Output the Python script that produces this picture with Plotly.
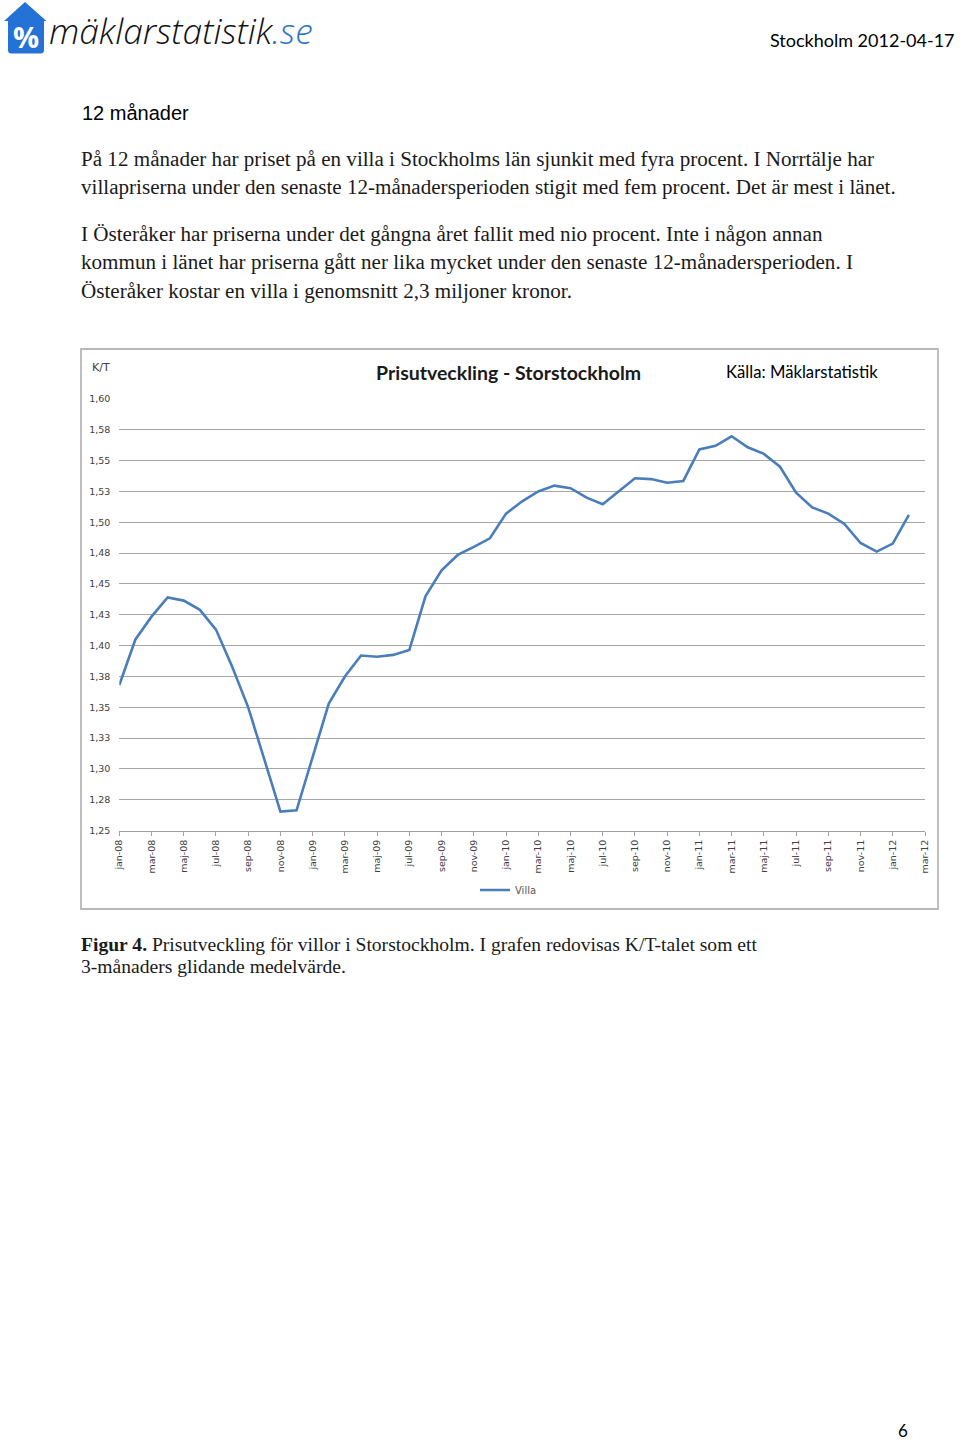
import plotly.graph_objects as go

# ---------------- data ----------------
months = ["jan", "feb", "mar", "apr", "maj", "jun", "jul", "aug", "sep", "okt", "nov", "dec"]
categories = [f"{m}-{y:02d}" for y in range(8, 13) for m in months][:51]  # jan-08 .. mar-12

villa = [
    # 2008
    1.368, 1.405, 1.4235, 1.439, 1.4365, 1.429, 1.413, 1.383, 1.350, 1.308, 1.2655, 1.2665,
    # 2009
    1.310, 1.353, 1.375, 1.392, 1.391, 1.3925, 1.3965, 1.440, 1.461, 1.4735, 1.480, 1.487,
    # 2010
    1.507, 1.517, 1.525, 1.5297, 1.5276, 1.520, 1.5146, 1.525, 1.5357, 1.535, 1.532, 1.5335,
    # 2011
    1.559, 1.562, 1.5697, 1.5608, 1.5554, 1.545, 1.524, 1.512, 1.507, 1.4986, 1.4832, 1.4762,
    # 2012
    1.4827, 1.506, None,
]

y_tickvals = [1.25, 1.275, 1.30, 1.325, 1.35, 1.375, 1.40, 1.425, 1.45, 1.475, 1.50, 1.525, 1.55, 1.575, 1.60]
y_ticktext = ["1,25", "1,28", "1,30", "1,33", "1,35", "1,38", "1,40", "1,43", "1,45", "1,48",
              "1,50", "1,53", "1,55", "1,58", "1,60"]

x_idx = list(range(len(categories)))
x_tickvals = x_idx[::2]
x_ticktext = categories[::2]

chart_title = "Prisutveckling - Storstockholm"
source_text = "Källa: Mäklarstatistik"
series_name = "Villa"

paragraph_lines = [
    "På 12 månader har priset på en villa i Stockholms län sjunkit med fyra procent. I Norrtälje har",
    "villapriserna under den senaste 12-månadersperioden stigit med fem procent. Det är mest i länet.",
    "I Österåker har priserna under det gångna året fallit med nio procent. Inte i någon annan",
    "kommun i länet har priserna gått ner lika mycket under den senaste 12-månadersperioden. I",
    "Österåker kostar en villa i genomsnitt 2,3 miljoner kronor.",
]
paragraph_y = [159, 187, 234, 262, 291]

caption_lines = [
    "<b>Figur 4.</b> Prisutveckling för villor i Storstockholm. I grafen redovisas K/T-talet som ett",
    "3-månaders glidande medelvärde.",
]
caption_y = [944, 966]

# ---------------- layout helpers ----------------
W, H = 960, 1443


def px(x):
    return x / W


def py(y):
    return 1 - y / H


fig = go.Figure()
fig.add_trace(go.Scatter(
    x=x_idx, y=villa, mode="lines", name=series_name,
    line=dict(color="#4a7ebb", width=2.6), connectgaps=False,
))

annotations = []


def add_text(text, x, y, size, family, color="#000000", xanchor="left", yanchor="middle", **kw):
    annotations.append(dict(
        text=text, x=px(x), y=py(y), xref="paper", yref="paper", showarrow=False,
        xanchor=xanchor, yanchor=yanchor, font=dict(size=size, family=family, color=color), **kw))
    return annotations[-1]


# header
a = add_text("mäklarstatistik<span style='color:#2e75c8'>.se</span>", 47, 30, 35.4, "Open Sans",
             color="#111111")
a["font"]["style"] = "italic"
a["font"]["weight"] = 300
add_text("<b>%</b>", 26, 36, 29, "Open Sans", color="#ffffff", xanchor="center")
add_text("Stockholm 2012-04-17", 957, 40, 18, "Lato", color="#000000", xanchor="right")

# heading and paragraphs
add_text("12 månader", 80, 113, 20, "Liberation Sans", color="#000000")
for line, yy in zip(paragraph_lines, paragraph_y):
    add_text(line, 79, yy, 21.1, "Liberation Serif", color="#1a1a1a")

# chart texts
add_text("<b>" + chart_title + "</b>", 509, 372, 19.5, "Lato", color="#1a1a1a", xanchor="center")
add_text(source_text, 802, 372, 16.7, "Lato", color="#000000", xanchor="center")
add_text("K/T", 101, 367, 11, "DejaVu Sans", color="#404040", xanchor="center")

# caption
for line, yy in zip(caption_lines, caption_y):
    add_text(line, 79, yy, 19.6, "Liberation Serif", color="#1a1a1a")

# page number
add_text("6", 903, 1443, 17, "Lato", color="#000000", xanchor="center", yanchor="bottom")

shapes = [
    # chart frame
    dict(type="rect", xref="paper", yref="paper", x0=px(81), x1=px(938), y0=py(909), y1=py(349),
         line=dict(color="#b8b8b8", width=1.8), fillcolor="rgba(0,0,0,0)", layer="below"),
    # logo house
    dict(type="path", xref="paper", yref="paper",
         path=(f"M {px(25)},{py(2)} L {px(46.5)},{py(21)} L {px(44)},{py(21)} L {px(44)},{py(50)} "
               f"Q {px(44)},{py(53.5)} {px(40.5)},{py(53.5)} L {px(11.5)},{py(53.5)} "
               f"Q {px(8)},{py(53.5)} {px(8)},{py(50)} L {px(8)},{py(21)} L {px(4)},{py(21)} Z"),
         fillcolor="#2472d6", line=dict(width=0), layer="below"),
]

fig.update_layout(
    width=W, height=H,
    margin=dict(l=0, r=0, t=0, b=0, autoexpand=False),
    paper_bgcolor="#ffffff", plot_bgcolor="#ffffff",
    annotations=annotations, shapes=shapes,
    showlegend=True,
    legend=dict(orientation="h", x=px(475), y=py(890), xanchor="left", yanchor="middle",
                font=dict(size=10, family="DejaVu Sans", color="#595959"),
                bgcolor="rgba(0,0,0,0)", itemwidth=30),
    xaxis=dict(
        domain=[px(119.3), px(925)], range=[0, 50], automargin=False,
        tickmode="array", tickvals=x_tickvals, ticktext=x_ticktext, tickangle=-90,
        tickfont=dict(size=9.5, family="DejaVu Sans", color="#404040"),
        showgrid=False, zeroline=False,
        showline=True, linecolor="#a0a0a0", linewidth=1.3,
        ticks="outside", ticklen=4, tickcolor="#a0a0a0", tickwidth=1,
    ),
    yaxis=dict(
        domain=[py(830.67), py(398.9)], range=[1.25, 1.60], automargin=False,
        tickmode="array", tickvals=y_tickvals, ticktext=y_ticktext,
        tickfont=dict(size=9.5, family="DejaVu Sans", color="#404040"),
        showgrid=True, gridcolor="#a6a6a6", gridwidth=1.3,
        zeroline=False, showline=False, ticks="", ticklabelstandoff=8,
    ),
)

fig.write_html(
    "out.html",
    config={"displayModeBar": False},
    post_script="document.body.style.margin='0';document.body.style.overflow='hidden';",
)
